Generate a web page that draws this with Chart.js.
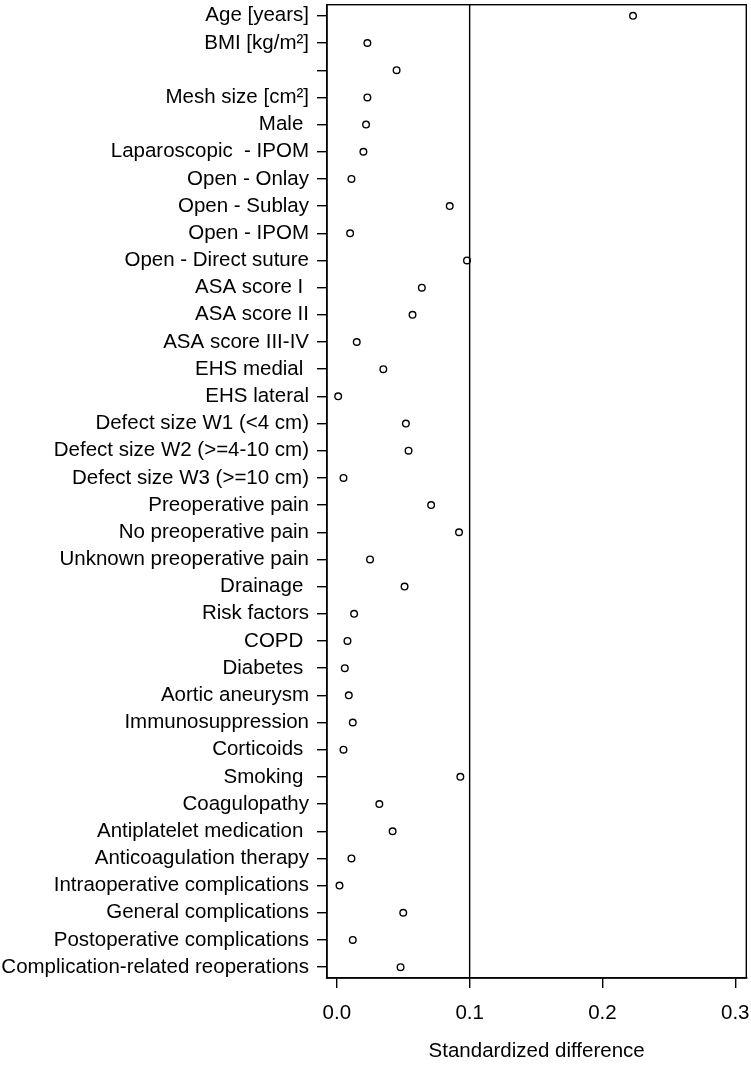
<!DOCTYPE html>
<html>
<head>
<meta charset="utf-8">
<script src="https://cdn.jsdelivr.net/npm/chart.js@4/dist/chart.umd.min.js"></script>
<style>
  html, body { margin: 0; padding: 0; background: #fff; }
  #wrap { width: 751px; height: 1066px; }
</style>
</head>
<body>
<div id="wrap"><canvas id="dotChart"></canvas></div>
<script>
/* DATA */
var categories = [
    "Age [years]", "BMI [kg/m\u00b2]", "", "Mesh size [cm\u00b2]", "Male ",
    "Laparoscopic  - IPOM", "Open - Onlay", "Open - Sublay", "Open - IPOM",
    "Open - Direct suture", "ASA score I ", "ASA score II", "ASA score III-IV",
    "EHS medial ", "EHS lateral", "Defect size W1 (<4 cm)",
    "Defect size W2 (>=4-10 cm)", "Defect size W3 (>=10 cm)",
    "Preoperative pain", "No preoperative pain", "Unknown preoperative pain",
    "Drainage ", "Risk factors", "COPD ", "Diabetes ", "Aortic aneurysm",
    "Immunosuppression", "Corticoids ", "Smoking ", "Coagulopathy",
    "Antiplatelet medication ", "Anticoagulation therapy",
    "Intraoperative complications", "General complications",
    "Postoperative complications", "Complication-related reoperations"
];
var stdDiff = [
    0.223, 0.023, 0.045, 0.023, 0.022,
    0.020, 0.011, 0.085, 0.010,
    0.098, 0.064, 0.057, 0.015,
    0.035, 0.001, 0.052,
    0.054, 0.005,
    0.071, 0.092, 0.025,
    0.051, 0.013, 0.008, 0.006, 0.009,
    0.012, 0.005, 0.093, 0.032,
    0.042, 0.011,
    0.002, 0.050,
    0.012, 0.048
];
var xTicks = [0.0, 0.1, 0.2, 0.3];
var refLine = 0.1;

/* PLUGINS */
var frameBox = {
    id: "frameBox",
    afterDatasetsDraw: function(chart) {
        var ctx = chart.ctx, a = chart.chartArea;
        var xPix = chart.scales.x.getPixelForValue(refLine);
        ctx.save();
        ctx.strokeStyle = "#000";
        ctx.lineWidth = 1.4;
        ctx.beginPath();
        ctx.moveTo(xPix, a.top);
        ctx.lineTo(xPix, a.bottom);
        ctx.stroke();
        ctx.strokeRect(a.left, a.top, a.right - a.left, a.bottom - a.top);
        ctx.restore();
    }
};

/* DRAW CHART */
var font_family = "'Liberation Sans', Arial, Helvetica, sans-serif";
var ctx = document.getElementById("dotChart").getContext("2d");
var myChart = new Chart(ctx, {
    type: "scatter",
    data: {
        datasets: [{
            data: stdDiff.map(function(v, i) { return { x: v, y: i }; }),
            pointStyle: "circle",
            pointRadius: 3.3,
            pointHoverRadius: 3.3,
            pointBorderWidth: 1.4,
            borderColor: "#000",
            backgroundColor: "rgba(0,0,0,0)"
        }]
    },
    options: {
        responsive: true,
        maintainAspectRatio: false,
        animation: false,
        layout: { padding: { top: 1, right: 4, bottom: 0, left: 0 } },
        plugins: {
            legend: { display: false },
            tooltip: { enabled: false }
        },
        scales: {
            x: {
                type: "linear",
                min: -0.0074,
                max: 0.3083,
                afterBuildTicks: function(scale) {
                    scale.ticks = xTicks.map(function(v) { return { value: v }; });
                },
                afterFit: function(scale) {
                    scale.height = 88;
                    scale.paddingLeft = 0;
                    scale.paddingRight = 0;
                },
                ticks: {
                    color: "#000",
                    padding: 13,
                    maxRotation: 0,
                    font: { family: font_family, size: 20.5 },
                    callback: function(v) { return v.toFixed(1); }
                },
                grid: {
                    drawOnChartArea: false,
                    drawTicks: true,
                    tickLength: 10,
                    color: "#000",
                    lineWidth: 1.4
                },
                border: { display: true, color: "#000", width: 1.4 },
                title: {
                    display: true,
                    text: "Standardized difference",
                    color: "#000",
                    padding: { top: 4, bottom: 2 },
                    font: { family: font_family, size: 20.5 }
                }
            },
            y: {
                type: "linear",
                reverse: true,
                min: -0.41,
                max: 35.4,
                afterBuildTicks: function(scale) {
                    scale.ticks = categories.map(function(c, i) { return { value: i }; });
                },
                afterFit: function(scale) {
                    scale.width = 327;
                    scale.paddingTop = 0;
                    scale.paddingBottom = 0;
                },
                ticks: {
                    color: "#000",
                    padding: 8,
                    autoSkip: false,
                    font: { family: font_family, size: 20.5 },
                    callback: function(v) { return categories[v]; }
                },
                grid: {
                    drawOnChartArea: false,
                    drawTicks: true,
                    tickLength: 10,
                    color: "#000",
                    lineWidth: 1.4
                },
                border: { display: true, color: "#000", width: 1.4 }
            }
        }
    },
    plugins: [frameBox]
});
</script>
</body>
</html>
